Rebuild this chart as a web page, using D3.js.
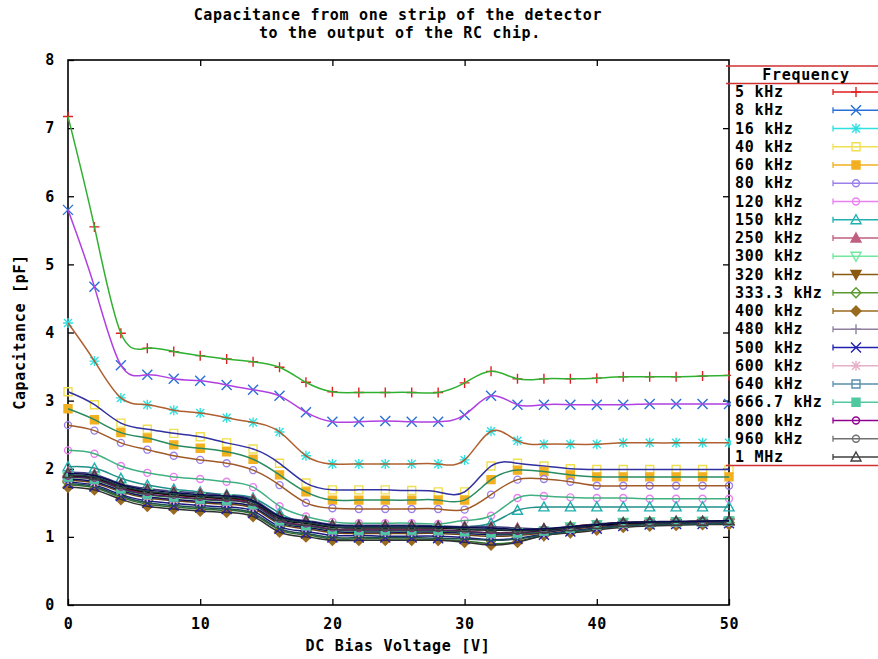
<!DOCTYPE html>
<html>
<head>
<meta charset="utf-8">
<script src="https://cdn.jsdelivr.net/npm/d3@7"></script>
<style>
    body { margin: 0; background: #fff; }
    text { font-family: 'DejaVu Sans Mono', monospace; font-weight: bold; font-size: 15px; letter-spacing: 0.7px; fill: #000; }
</style>
</head>
<body>
<svg id="chart" width="878" height="659"></svg>
<script>
'use strict';

// DC bias voltage, one reading every 2 V
const voltages = [0, 2, 4, 6, 8, 10, 12, 14, 16, 18, 20, 22, 24, 26, 28, 30, 32, 34, 36, 38, 40, 42, 44, 46, 48, 50];

const frequencies = ['5 kHz', '8 kHz', '16 kHz', '40 kHz', '60 kHz', '80 kHz', '120 kHz', '150 kHz', '250 kHz', '300 kHz',
    '320 kHz', '333.3 kHz', '400 kHz', '480 kHz', '500 kHz', '600 kHz', '640 kHz', '666.7 kHz', '800 kHz', '960 kHz', '1 MHz'];

// capacitance [pF] per frequency
const c5k    = [7.17, 5.55, 3.99, 3.77, 3.72, 3.66, 3.61, 3.57, 3.49, 3.27, 3.13, 3.12, 3.12, 3.12, 3.12, 3.26, 3.43, 3.32, 3.32, 3.32, 3.33, 3.35, 3.35, 3.35, 3.36, 3.37];
const c8k    = [5.80, 4.67, 3.52, 3.38, 3.32, 3.29, 3.23, 3.16, 3.07, 2.83, 2.69, 2.69, 2.70, 2.69, 2.69, 2.79, 3.07, 2.94, 2.94, 2.94, 2.94, 2.94, 2.95, 2.95, 2.95, 2.95];
const c16k   = [4.14, 3.58, 3.04, 2.94, 2.86, 2.82, 2.75, 2.68, 2.54, 2.19, 2.07, 2.07, 2.07, 2.07, 2.07, 2.13, 2.55, 2.41, 2.36, 2.36, 2.36, 2.38, 2.38, 2.38, 2.38, 2.38];
const c40k   = [3.13, 2.94, 2.67, 2.58, 2.52, 2.47, 2.38, 2.29, 2.08, 1.79, 1.69, 1.69, 1.69, 1.68, 1.66, 1.66, 2.04, 2.08, 2.04, 2.00, 1.99, 1.99, 1.99, 1.99, 1.99, 1.99];
const c60k   = [2.88, 2.72, 2.53, 2.45, 2.35, 2.30, 2.25, 2.14, 1.91, 1.66, 1.54, 1.54, 1.54, 1.54, 1.54, 1.54, 1.84, 1.98, 1.96, 1.91, 1.88, 1.88, 1.88, 1.88, 1.88, 1.88];
const c80k   = [2.64, 2.56, 2.38, 2.28, 2.19, 2.13, 2.08, 1.98, 1.76, 1.50, 1.42, 1.41, 1.41, 1.41, 1.41, 1.40, 1.62, 1.84, 1.85, 1.81, 1.75, 1.75, 1.75, 1.75, 1.75, 1.75];
const c120k  = [2.27, 2.22, 2.04, 1.94, 1.88, 1.85, 1.81, 1.73, 1.45, 1.30, 1.22, 1.20, 1.20, 1.20, 1.19, 1.24, 1.31, 1.57, 1.60, 1.58, 1.57, 1.57, 1.56, 1.56, 1.56, 1.56];
const c150k  = [2.03, 2.01, 1.86, 1.76, 1.70, 1.66, 1.62, 1.57, 1.35, 1.20, 1.15, 1.14, 1.14, 1.14, 1.14, 1.15, 1.20, 1.39, 1.44, 1.44, 1.44, 1.44, 1.44, 1.44, 1.44, 1.44];
const c250k  = [1.95, 1.92, 1.78, 1.71, 1.67, 1.64, 1.61, 1.55, 1.31, 1.24, 1.18, 1.17, 1.17, 1.17, 1.16, 1.15, 1.15, 1.13, 1.12, 1.15, 1.19, 1.21, 1.22, 1.22, 1.22, 1.23];
const c300k  = [1.88, 1.86, 1.72, 1.65, 1.61, 1.58, 1.56, 1.49, 1.24, 1.17, 1.11, 1.10, 1.10, 1.10, 1.10, 1.08, 1.06, 1.06, 1.08, 1.15, 1.18, 1.21, 1.22, 1.22, 1.23, 1.23];
const c320k  = [1.76, 1.72, 1.58, 1.48, 1.44, 1.41, 1.39, 1.33, 1.10, 1.03, 0.97, 0.97, 0.97, 0.97, 0.96, 0.94, 0.90, 0.93, 1.02, 1.07, 1.12, 1.16, 1.18, 1.19, 1.19, 1.20];
const c333k  = [1.80, 1.76, 1.62, 1.53, 1.49, 1.46, 1.44, 1.38, 1.15, 1.08, 1.02, 1.02, 1.01, 1.01, 1.01, 0.99, 0.96, 0.98, 1.04, 1.09, 1.13, 1.17, 1.19, 1.20, 1.20, 1.21];
const c400k  = [1.73, 1.69, 1.55, 1.45, 1.41, 1.38, 1.36, 1.30, 1.07, 1.00, 0.95, 0.95, 0.95, 0.95, 0.95, 0.92, 0.88, 0.92, 1.02, 1.06, 1.10, 1.14, 1.16, 1.17, 1.18, 1.18];
const c480k  = [1.83, 1.79, 1.66, 1.57, 1.53, 1.50, 1.48, 1.42, 1.19, 1.12, 1.06, 1.05, 1.05, 1.05, 1.05, 1.03, 1.01, 1.02, 1.06, 1.11, 1.15, 1.18, 1.20, 1.21, 1.21, 1.22];
const c500k  = [1.78, 1.74, 1.60, 1.50, 1.46, 1.43, 1.41, 1.35, 1.12, 1.05, 0.99, 0.99, 0.99, 0.99, 0.98, 0.97, 0.95, 0.97, 1.03, 1.08, 1.12, 1.16, 1.18, 1.19, 1.19, 1.20];
const c600k  = [1.85, 1.81, 1.68, 1.59, 1.55, 1.52, 1.50, 1.44, 1.21, 1.14, 1.08, 1.07, 1.07, 1.07, 1.07, 1.05, 1.03, 1.04, 1.07, 1.12, 1.16, 1.19, 1.21, 1.21, 1.22, 1.22];
const c640k  = [1.87, 1.84, 1.70, 1.62, 1.58, 1.55, 1.53, 1.47, 1.23, 1.16, 1.10, 1.09, 1.09, 1.09, 1.09, 1.07, 1.05, 1.05, 1.08, 1.13, 1.17, 1.20, 1.21, 1.22, 1.22, 1.23];
const c667k  = [1.88, 1.85, 1.71, 1.63, 1.59, 1.56, 1.54, 1.48, 1.24, 1.17, 1.11, 1.10, 1.10, 1.10, 1.10, 1.08, 1.06, 1.06, 1.09, 1.13, 1.17, 1.20, 1.21, 1.22, 1.22, 1.23];
const c800k  = [1.90, 1.87, 1.74, 1.66, 1.62, 1.59, 1.57, 1.51, 1.27, 1.20, 1.14, 1.13, 1.13, 1.13, 1.13, 1.11, 1.10, 1.09, 1.10, 1.14, 1.17, 1.20, 1.21, 1.22, 1.23, 1.23];
const c960k  = [1.91, 1.88, 1.75, 1.67, 1.63, 1.60, 1.58, 1.52, 1.28, 1.21, 1.15, 1.14, 1.14, 1.14, 1.14, 1.12, 1.11, 1.10, 1.11, 1.14, 1.18, 1.21, 1.22, 1.22, 1.23, 1.23];
const c1M    = [1.93, 1.90, 1.77, 1.69, 1.65, 1.62, 1.60, 1.53, 1.30, 1.23, 1.17, 1.16, 1.16, 1.16, 1.15, 1.14, 1.13, 1.11, 1.12, 1.15, 1.18, 1.21, 1.22, 1.23, 1.23, 1.24];

const capacitances = [c5k, c8k, c16k, c40k, c60k, c80k, c120k, c150k, c250k, c300k, c320k, c333k, c400k,
    c480k, c500k, c600k, c640k, c667k, c800k, c960k, c1M];

const yTicks = [0, 1, 2, 3, 4, 5, 6, 7, 8];
const xTicks = [0, 10, 20, 30, 40, 50];

// styles: point colour, point type, colour of the smoothed curve
const pointColours = ['#e02020', '#2a70d8', '#30e0e0', '#f0e050', '#f2b020', '#9a80e8', '#e880f0', '#20b0b0', '#c06080', '#70e8a0',
    '#8a5a10', '#5a9a30', '#9a6a20', '#9080a0', '#2020b0', '#e8b0c8', '#5a90b0', '#50c8a0', '#900090', '#707070', '#404040'];
const pointTypes = ['plus', 'cross', 'star', 'osquare', 'fsquare', 'ocircle', 'ocircle', 'otri', 'ftri', 'oinvtri',
    'finvtri', 'odiamond', 'fdiamond', 'plus', 'cross', 'star', 'osquare', 'fsquare', 'ocircle', 'ocircle', 'otri'];
const lineColours = ['#30b030', '#b040e0', '#b06030', '#3030a0', '#2a8a60', '#a05a28', '#40b080', '#20908a', '#404080', '#8b1a1a',
    '#2f6f2f', '#1a1a80', '#303030', '#6b4513', '#205050', '#101060', '#2a7a40', '#502060', '#000000', '#204040', '#0a0a50'];

const margin = {left: 68, right: 729, top: 60, bottom: 605};

const svg = d3.select('#chart');
const x = d3.scaleLinear().domain([0, 50]).range([margin.left, margin.right]);
const y = d3.scaleLinear().domain([0, 8]).range([margin.bottom, margin.top]);

function drawPoint(g, type, colour, cx, cy) {

    let s = 5;
    let path = '';
    let filled = type.charAt(0) === 'f';

    switch (type) {
        case 'plus':
            path = `M${-s},0H${s}M0,${-s}V${s}`;
            break;
        case 'cross':
            path = `M${-s},${-s}L${s},${s}M${-s},${s}L${s},${-s}`;
            break;
        case 'star':
            path = `M${-s},0H${s}M0,${-s}V${s}M-4,-4L4,4M-4,4L4,-4`;
            break;
        case 'osquare':
        case 'fsquare':
            path = 'M-4,-4H4V4H-4Z';
            break;
        case 'ocircle':
            path = 'M-3.5,0A3.5,3.5 0 1,0 3.5,0A3.5,3.5 0 1,0 -3.5,0Z';
            break;
        case 'otri':
        case 'ftri':
            path = 'M0,-5L5,4H-5Z';
            break;
        case 'oinvtri':
        case 'finvtri':
            path = 'M0,5L5,-4H-5Z';
            break;
        case 'odiamond':
        case 'fdiamond':
            path = 'M0,-5L5,0L0,5L-5,0Z';
            break;
    }

    g.append('path')
        .attr('d', path)
        .attr('transform', `translate(${cx},${cy})`)
        .attr('fill', filled ? colour : 'none')
        .attr('stroke', colour)
        .attr('stroke-width', 1.4);
}

// axes, ticks point inwards on all four sides
svg.append('g')
    .attr('transform', `translate(${margin.left},0)`)
    .call(d3.axisLeft(y).tickValues(yTicks).tickSizeInner(-6).tickSizeOuter(0).tickPadding(13).tickFormat(d3.format('d')))
    .call((g) => g.select('.domain').remove());

svg.append('g')
    .attr('transform', `translate(${margin.right},0)`)
    .call(d3.axisRight(y).tickValues(yTicks.slice(1, -1)).tickSizeInner(-6).tickSizeOuter(0).tickFormat(''))
    .call((g) => g.select('.domain').remove());

svg.append('g')
    .attr('transform', `translate(0,${margin.bottom})`)
    .call(d3.axisBottom(x).tickValues(xTicks).tickSizeInner(-6).tickSizeOuter(0).tickPadding(13).tickFormat(d3.format('d')))
    .call((g) => g.select('.domain').remove());

svg.append('g')
    .attr('transform', `translate(0,${margin.top})`)
    .call(d3.axisTop(x).tickValues(xTicks.slice(1, -1)).tickSizeInner(-6).tickSizeOuter(0).tickFormat(''))
    .call((g) => g.select('.domain').remove());

svg.selectAll('.tick line').attr('stroke', '#000').attr('stroke-width', 1.3);
svg.selectAll('.tick text').style('font-size', null).attr('font-size', null).attr('font-family', null);

svg.append('rect')
    .attr('x', margin.left)
    .attr('y', margin.top)
    .attr('width', margin.right - margin.left)
    .attr('height', margin.bottom - margin.top)
    .attr('fill', 'none')
    .attr('stroke', '#000')
    .attr('stroke-width', 1.6);

// series: points first, then the smoothed curve on top, same order as gnuplot
const line = d3.line()
    .x((d) => x(d[0]))
    .y((d) => y(d[1]))
    .curve(d3.curveNatural);

const plot = svg.append('g');

capacitances.forEach((values, i) => {

    let pts = voltages.map((v, j) => [v, values[j]]);
    let g = plot.append('g');

    pts.forEach((p) => drawPoint(g, pointTypes[i], pointColours[i], x(p[0]), y(p[1])));

    g.append('path')
        .attr('d', line(pts))
        .attr('fill', 'none')
        .attr('stroke', lineColours[i])
        .attr('stroke-width', 1.5);
});

// titles
svg.append('text')
    .attr('x', 398)
    .attr('y', 20)
    .attr('text-anchor', 'middle')
    .text('Capacitance from one strip of the detector');

svg.append('text')
    .attr('x', 400)
    .attr('y', 37.5)
    .attr('text-anchor', 'middle')
    .text('to the output of the RC chip.');

svg.append('text')
    .attr('x', 398)
    .attr('y', 651)
    .attr('text-anchor', 'middle')
    .text('DC Bias Voltage [V]');

svg.append('text')
    .attr('transform', 'translate(25,332) rotate(-90)')
    .attr('text-anchor', 'middle')
    .text('Capacitance [pF]');

// key
const key = svg.append('g');
const keyTop = 66;
const keyBottom = 465.5;
const rowY = (i) => 92 + i * 18.25;

key.append('rect')
    .attr('x', 731)
    .attr('y', keyTop)
    .attr('width', 150)
    .attr('height', keyBottom - keyTop)
    .attr('fill', '#fff');

[keyTop, 83.5, keyBottom].forEach((ly) => {
    key.append('line')
        .attr('x1', 726)
        .attr('x2', 878)
        .attr('y1', ly)
        .attr('y2', ly)
        .attr('stroke', '#d03030')
        .attr('stroke-width', 1.5);
});

key.append('text')
    .attr('x', 806)
    .attr('y', 80)
    .attr('text-anchor', 'middle')
    .text('Frequency');

frequencies.forEach((f, i) => {

    let cy = rowY(i);

    key.append('text')
        .attr('x', 735)
        .attr('y', cy + 5)
        .text(f);

    key.append('path')
        .attr('d', `M833,${cy}H880M833,${cy - 3}V${cy + 3}M880,${cy - 3}V${cy + 3}`)
        .attr('fill', 'none')
        .attr('stroke', pointColours[i])
        .attr('stroke-width', 1.3);

    drawPoint(key, pointTypes[i], pointColours[i], 856, cy);
});
</script>
</body>
</html>
